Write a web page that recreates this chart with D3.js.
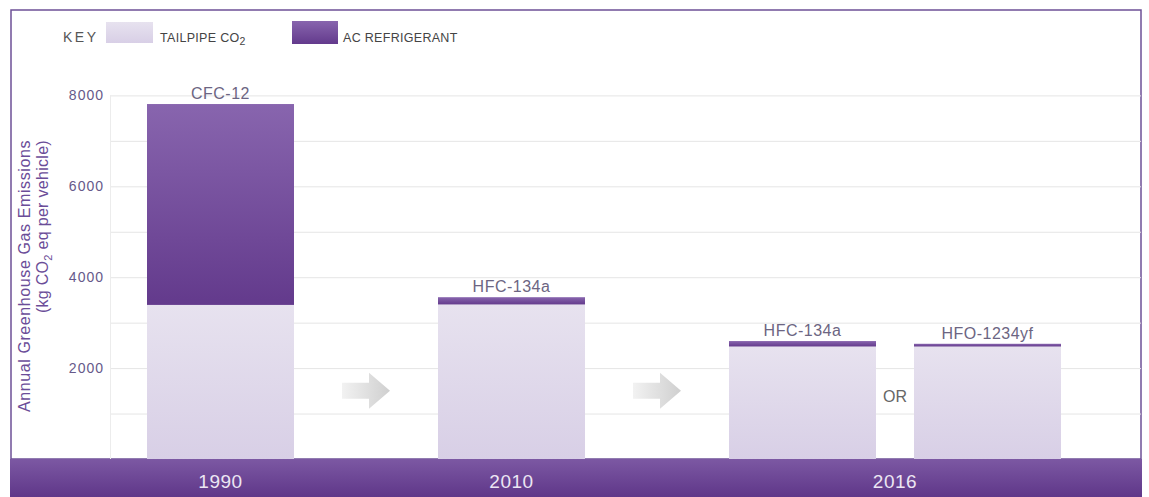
<!DOCTYPE html>
<html>
<head>
<meta charset="utf-8">
<script src="https://cdn.jsdelivr.net/npm/d3@7"></script>
<style>
  html, body { margin: 0; padding: 0; background: #fff; }
  svg { display: block; font-family: "Liberation Sans", Arial, sans-serif; }
</style>
</head>
<body>
<svg id="chart" width="1149" height="497"></svg>
<script>
// Emissions per vehicle, kg CO2 eq
const years = ["1990", "2010", "2016", "2016"];
const refrigerants = ["CFC-12", "HFC-134a", "HFC-134a", "HFO-1234yf"];
const tailpipe = [3390, 3400, 2475, 2475];
const acRefrigerant = [4420, 160, 120, 60];
const yTicks = [2000, 4000, 6000, 8000];
const gridTicks = [1000, 2000, 3000, 4000, 5000, 6000, 7000, 8000];
const legendLabels = ["TAILPIPE CO", "AC REFRIGERANT"];

const svg = d3.select("#chart");
const frame = { left: 11, right: 1141, top: 10, bandTop: 459, bottom: 497 };
const plot = { left: 110, right: 1141, top: 96, bottom: 459 };

const defs = svg.append("defs");
function vGrad(id, stops) {
  const g = defs.append("linearGradient").attr("id", id)
    .attr("x1", 0).attr("y1", 0).attr("x2", 0).attr("y2", 1);
  stops.forEach(([o, c]) => g.append("stop").attr("offset", o).attr("stop-color", c));
}
vGrad("gTail", [[0, "#e7e2ef"], [1, "#d8cfe6"]]);
vGrad("gAC", [[0, "#8865ae"], [1, "#633a8c"]]);
vGrad("gBand", [[0, "#7c58a3"], [1, "#5f3789"]]);
const ag = defs.append("linearGradient").attr("id", "gArrow")
  .attr("x1", 0).attr("y1", 0).attr("x2", 1).attr("y2", 0);
ag.append("stop").attr("offset", 0).attr("stop-color", "#f2f2f2");
ag.append("stop").attr("offset", 1).attr("stop-color", "#cfcfcf");

// y scale
const y = d3.scaleLinear().domain([0, 8000]).range([plot.bottom, plot.bottom - 363.6]);

// bar layout: bars of equal width, wide gaps between years, narrow gap inside a year
const barW = 147, groupGap = 144, innerGap = 38, startX = 147;
const bars = years.map((yr, i) => ({
  year: yr, name: refrigerants[i], tail: tailpipe[i], ac: acRefrigerant[i]
}));
let cursor = startX;
bars.forEach((b, i) => {
  if (i > 0) cursor += (bars[i - 1].year === b.year ? innerGap : groupGap);
  b.x = cursor;
  cursor += barW;
});

// frame
svg.append("rect")
  .attr("x", frame.left).attr("y", frame.top)
  .attr("width", frame.right - frame.left).attr("height", frame.bandTop - frame.top)
  .attr("fill", "#fff").attr("stroke", "#6d5096").attr("stroke-width", 1.5);

// gridlines
svg.append("g").selectAll("line").data(gridTicks).join("line")
  .attr("x1", plot.left).attr("x2", plot.right)
  .attr("y1", d => y(d) + 0.5).attr("y2", d => y(d) + 0.5)
  .attr("stroke", "#e5e5e5").attr("stroke-width", 1);
svg.append("line")
  .attr("x1", plot.left + 0.5).attr("x2", plot.left + 0.5)
  .attr("y1", y(8000)).attr("y2", plot.bottom)
  .attr("stroke", "#ececec");

// y axis tick labels
const yAxis = d3.axisLeft(y).tickValues(yTicks).tickSize(0).tickPadding(0).tickFormat(d3.format("d"));
const yg = svg.append("g").attr("transform", `translate(${plot.left - 6},0)`).call(yAxis);
yg.select(".domain").remove();
yg.selectAll("text").attr("fill", "#66598a").attr("font-size", 14)
  .attr("letter-spacing", 1)
  .attr("font-family", "Liberation Sans, Arial, sans-serif");

// y axis title, two lines ending at the same height
const titleEnd = 140;
const yt = svg.append("text")
  .attr("transform", `translate(30,${titleEnd}) rotate(-90)`)
  .attr("text-anchor", "end").attr("fill", "#6b4d98").attr("font-size", 16)
  .attr("letter-spacing", 0.6)
  .text("Annual Greenhouse Gas Emissions");
const yt2 = svg.append("text")
  .attr("transform", `translate(48,${titleEnd}) rotate(-90)`)
  .attr("text-anchor", "end").attr("fill", "#6b4d98").attr("font-size", 16)
  .attr("letter-spacing", 0.3);
yt2.append("tspan").text("(kg CO");
yt2.append("tspan").attr("font-size", 11).attr("dy", 4).text("2");
yt2.append("tspan").attr("dy", -4).text(" eq per vehicle)");

// bars
const bg = svg.append("g");
bg.selectAll("rect.tail").data(bars).join("rect").attr("class", "tail")
  .attr("x", d => d.x).attr("width", barW)
  .attr("y", d => y(d.tail)).attr("height", d => y(0) - y(d.tail))
  .attr("fill", "url(#gTail)");
bg.selectAll("rect.ac").data(bars).join("rect").attr("class", "ac")
  .attr("x", d => d.x).attr("width", barW)
  .attr("y", d => y(d.tail + d.ac)).attr("height", d => y(d.tail) - y(d.tail + d.ac))
  .attr("fill", "url(#gAC)");

// refrigerant labels
bg.selectAll("text").data(bars).join("text")
  .attr("x", d => d.x + barW / 2).attr("y", d => y(d.tail + d.ac) - 5)
  .attr("text-anchor", "middle").attr("font-size", 16).attr("letter-spacing", 0.5)
  .attr("fill", "#6c6582")
  .text(d => d.name);

// arrows between years
const arrowXs = [];
for (let i = 1; i < bars.length; i++) {
  if (bars[i].year !== bars[i - 1].year) {
    arrowXs.push((bars[i - 1].x + barW + bars[i].x) / 2);
  }
}
const ay = y(1500);
svg.append("g").selectAll("path").data(arrowXs).join("path")
  .attr("d", cx => {
    const l = cx - 24, r = cx + 24, hx = cx + 3;
    return `M${l},${ay - 8}L${hx},${ay - 8}L${hx},${ay - 18}L${r},${ay}L${hx},${ay + 18}L${hx},${ay + 8}L${l},${ay + 8}Z`;
  })
  .attr("fill", "url(#gArrow)");

// "OR" between the two 2016 options
for (let i = 1; i < bars.length; i++) {
  if (bars[i].year === bars[i - 1].year) {
    svg.append("text")
      .attr("x", (bars[i - 1].x + barW + bars[i].x) / 2).attr("y", y(1250))
      .attr("text-anchor", "middle").attr("font-size", 16).attr("fill", "#666")
      .text("OR");
  }
}

// bottom band with year labels
svg.append("rect")
  .attr("x", frame.left - 1).attr("y", frame.bandTop)
  .attr("width", frame.right - frame.left + 2).attr("height", frame.bottom - frame.bandTop)
  .attr("fill", "url(#gBand)");
const yearGroups = d3.groups(bars, d => d.year).map(([yr, arr]) => ({
  year: yr,
  cx: d3.mean(arr, d => d.x + barW / 2)
}));
svg.append("g").selectAll("text").data(yearGroups).join("text")
  .attr("x", d => d.cx).attr("y", 488)
  .attr("text-anchor", "middle").attr("font-size", 19).attr("letter-spacing", 0.5)
  .attr("fill", "#ece6f3")
  .text(d => d.year);

// legend
const lg = svg.append("g");
lg.append("text").attr("x", 63).attr("y", 42).attr("font-size", 14).attr("letter-spacing", 2.5)
  .attr("fill", "#555").text("KEY");
lg.append("rect").attr("x", 106).attr("y", 22).attr("width", 47).attr("height", 21).attr("fill", "url(#gTail)");
const t1 = lg.append("text").attr("x", 160).attr("y", 42).attr("font-size", 12.5)
  .attr("letter-spacing", 0.3).attr("fill", "#444");
t1.append("tspan").text(legendLabels[0]);
t1.append("tspan").attr("font-size", 10.5).attr("dy", 3).text("2");
lg.append("rect").attr("x", 292).attr("y", 21).attr("width", 46).attr("height", 23).attr("fill", "url(#gAC)");
lg.append("text").attr("x", 343).attr("y", 42).attr("font-size", 12.5).attr("letter-spacing", 0.3)
  .attr("fill", "#444").text(legendLabels[1]);
</script>
</body>
</html>
